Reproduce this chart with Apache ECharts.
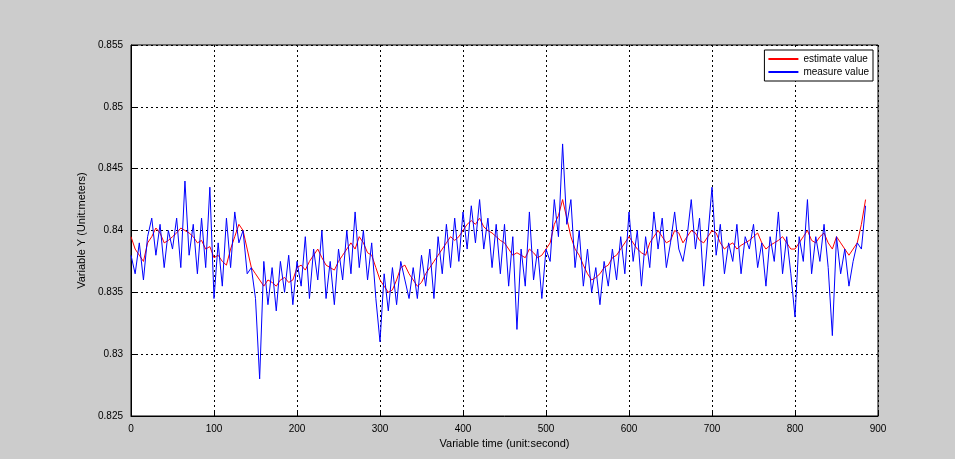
<!DOCTYPE html>
<html>
<head>
<meta charset="utf-8">
<script src="https://cdn.jsdelivr.net/npm/echarts@6/dist/echarts.min.js"></script>
<style>html,body{margin:0;padding:0;background:#cccccc;}#chart{width:955px;height:459px;}</style>
</head>
<body>
<div id="chart"></div>
<script>
const step = 5;
const estimate = [
  0.8395, 0.8385, 0.838, 0.8375, 0.839,
  0.8395, 0.8402, 0.8398, 0.839, 0.8392, 0.8395,
  0.8398, 0.8402, 0.840, 0.8398, 0.8395, 0.839, 0.8392, 0.8385, 0.8387,
  0.8378, 0.838, 0.8375, 0.8372, 0.8385, 0.8395, 0.8405, 0.840,
  0.8385, 0.837, 0.8365, 0.836,
  0.8355, 0.836, 0.8358, 0.8355, 0.836, 0.8362, 0.8358, 0.836,
  0.837, 0.8372, 0.8368, 0.8375, 0.838, 0.8385, 0.8378, 0.8372, 0.837, 0.8368,
  0.8375, 0.838, 0.8385, 0.839, 0.8385, 0.8395, 0.839, 0.8382, 0.838, 0.837,
  0.836, 0.8355, 0.835, 0.8352, 0.836, 0.837,
  0.8372, 0.8365, 0.836, 0.8355, 0.8358, 0.8365, 0.837, 0.8375, 0.838, 0.8385, 0.839, 0.8395, 0.8392, 0.8395,
  0.840, 0.8405, 0.8408, 0.8405, 0.841, 0.8403, 0.840, 0.8398, 0.8395, 0.8392,
  0.839, 0.8385, 0.838, 0.8382, 0.838, 0.8378, 0.8385, 0.8382, 0.8378, 0.838,
  0.8385, 0.839, 0.8405, 0.8412, 0.8425, 0.841,
  0.8395, 0.8385, 0.838, 0.8372, 0.8365, 0.836, 0.8362, 0.8365, 0.837, 0.8372, 0.8378, 0.838, 0.8385, 0.839,
  0.8395, 0.839, 0.8385, 0.8382, 0.838, 0.839, 0.8395, 0.840, 0.8395, 0.839, 0.8392, 0.840, 0.8398, 0.839, 0.8395, 0.840, 0.8398, 0.8392, 0.839, 0.8395,
  0.840, 0.8398, 0.839, 0.8385, 0.8388, 0.839, 0.8385, 0.8388, 0.839, 0.8392, 0.8395, 0.8398, 0.839, 0.8385, 0.8388, 0.839, 0.8392, 0.8395, 0.839, 0.8385,
  0.8385, 0.839, 0.8395, 0.840, 0.8392, 0.839, 0.8395, 0.8398, 0.839, 0.8385, 0.8395, 0.839, 0.8385, 0.838, 0.8385, 0.839, 0.8405, 0.8425
];
const measure = [
  0.838, 0.8365, 0.839, 0.836, 0.8395, 0.841, 0.838, 0.8405, 0.837, 0.840,
  0.8385, 0.841, 0.837, 0.844, 0.838, 0.8405, 0.8365, 0.841, 0.837, 0.8435,
  0.8345, 0.839, 0.8355, 0.841, 0.837, 0.8415, 0.839, 0.840, 0.8365, 0.837,
  0.8345, 0.828, 0.8375, 0.834, 0.837, 0.8335, 0.8375, 0.835, 0.838, 0.834,
  0.8375, 0.8355, 0.8395, 0.8345, 0.8385, 0.836, 0.840, 0.8345, 0.8375, 0.834,
  0.8385, 0.836, 0.840, 0.8365, 0.8415, 0.837, 0.840, 0.836, 0.839, 0.8345,
  0.831, 0.8365, 0.8335, 0.837, 0.834, 0.8375, 0.836, 0.8345, 0.837, 0.8345,
  0.838, 0.8355, 0.8385, 0.8345, 0.8395, 0.8365, 0.8405, 0.837, 0.841, 0.8375,
  0.8415, 0.8385, 0.842, 0.839, 0.8425, 0.8385, 0.841, 0.837, 0.8405, 0.8365,
  0.8405, 0.8355, 0.8395, 0.832, 0.8385, 0.8355, 0.8415, 0.836, 0.8385, 0.8345,
  0.8385, 0.8375, 0.8425, 0.8395, 0.847, 0.8405, 0.8425, 0.837, 0.840, 0.8355,
  0.8385, 0.835, 0.837, 0.834, 0.8375, 0.8355, 0.8385, 0.836, 0.8395, 0.8365,
  0.8415, 0.8375, 0.840, 0.8355, 0.8395, 0.837, 0.8415, 0.8385, 0.841, 0.837,
  0.839, 0.8415, 0.8385, 0.8375, 0.8395, 0.8425, 0.8385, 0.841, 0.8355, 0.8395,
  0.8435, 0.838, 0.8405, 0.8365, 0.839, 0.8375, 0.8405, 0.8365, 0.8395, 0.8385,
  0.8405, 0.837, 0.839, 0.8355, 0.8395, 0.8375, 0.8415, 0.8365, 0.8395, 0.8365,
  0.833, 0.8395, 0.8375, 0.8425, 0.8365, 0.8395, 0.8375, 0.8405, 0.837, 0.8315,
  0.8395, 0.8365, 0.8385, 0.8355, 0.8375, 0.839, 0.8385, 0.842
];

const chart = echarts.init(document.getElementById('chart'));
const pairs = arr => arr.map((v, i) => [i * step, v]);
const axisCommon = {
  axisLine: { onZero: false, lineStyle: { color: '#000', width: 1 } },
  axisTick: { inside: true, length: 5, lineStyle: { color: '#000' } },
  axisLabel: { color: '#000', fontSize: 10, fontFamily: 'Liberation Sans' },
  splitLine: { show: true, lineStyle: { color: '#000', type: [2, 3], width: 1 } },
  nameTextStyle: { color: '#000', fontSize: 11, fontFamily: 'Liberation Sans' }
};

chart.setOption({
  backgroundColor: '#cccccc',
  animation: false,
  grid: { left: 131, right: 77, top: 45, bottom: 43, show: true, backgroundColor: '#fff', borderColor: '#000', borderWidth: 1 },
  legend: {
    right: 82, top: 50, orient: 'vertical', itemGap: 3,
    backgroundColor: '#fff', borderColor: '#000', borderWidth: 1, padding: [4, 4],
    itemWidth: 30, itemHeight: 2, icon: 'rect',
    textStyle: { color: '#000', fontSize: 10, fontFamily: 'Liberation Sans' },
    data: ['estimate value', 'measure value']
  },
  xAxis: Object.assign({}, axisCommon, {
    type: 'value', min: 0, max: 900, interval: 100,
    name: 'Variable time (unit:second)', nameLocation: 'middle', nameGap: 16
  }),
  yAxis: Object.assign({}, axisCommon, {
    type: 'value', min: 0.825, max: 0.855, interval: 0.005,
    axisLabel: Object.assign({}, axisCommon.axisLabel, { formatter: v => String(+v.toFixed(3)) }),
    name: 'Variable Y (Unit:meters)', nameLocation: 'middle', nameGap: 32
  }),
  series: [
    { name: 'estimate value', type: 'line', data: pairs(estimate), symbol: 'none', lineStyle: { color: '#ff0000', width: 1 }, itemStyle: { color: '#ff0000' } },
    { name: 'measure value', type: 'line', data: pairs(measure), symbol: 'none', lineStyle: { color: '#0000ff', width: 1 }, itemStyle: { color: '#0000ff' } }
  ]
});
</script>
</body>
</html>
